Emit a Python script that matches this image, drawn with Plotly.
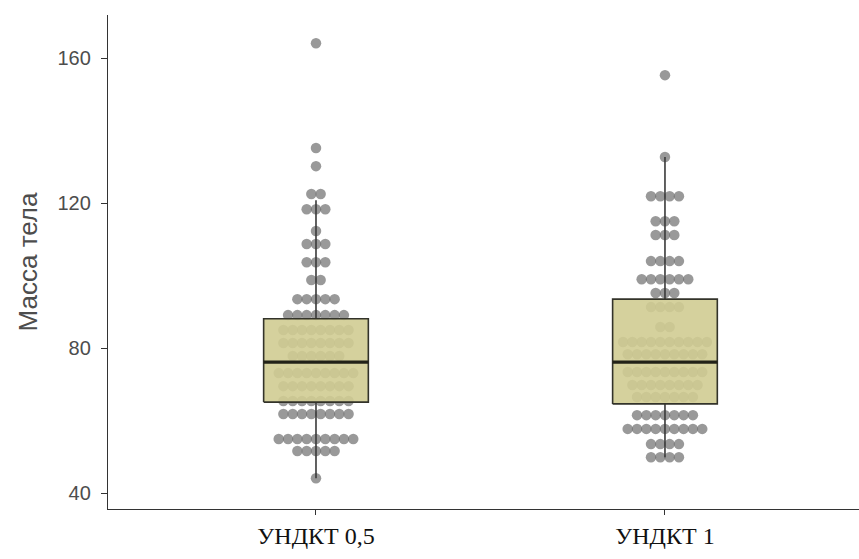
import plotly.graph_objects as go

# Groups
groups = ["УНДКТ 0,5", "УНДКТ 1"]

# Dot-plot rows: body mass value of each stacked row and number of dots in it
g1_row_values = [164.1, 135.2, 130.2, 122.5, 118.3, 112.3, 108.7, 103.7, 98.8, 93.5,
                 89.1, 85.0, 81.4, 77.8, 73.1, 69.5, 65.4, 61.8, 54.9, 51.6, 44.1]
g1_row_counts = [1, 1, 1, 2, 3, 1, 3, 3, 2, 5,
                 7, 8, 8, 6, 9, 8, 8, 8, 9, 5, 1]

g2_row_values = [155.3, 132.7, 121.9, 115.0, 111.2, 104.0, 99.0, 95.2, 91.3, 85.8,
                 81.7, 78.3, 73.4, 69.8, 66.5, 61.5, 57.7, 53.5, 49.9]
g2_row_counts = [1, 1, 4, 3, 3, 4, 6, 3, 4, 2,
                 10, 9, 9, 8, 7, 7, 9, 4, 4]

# Box statistics per group
q1 = [65.1, 64.6]
median = [76.1, 76.1]
q3 = [88.1, 93.5]
lower_whisker = [44.1, 49.9]
upper_whisker = [120.8, 132.7]

y_ticks = [40, 80, 120, 160]
y_title = "Масса тела"

# Layout constants
BOX_WIDTH = 0.30
DOT_STEP = 0.0267
DOT_SIZE = 10.5
EDGE = "#33332a"

rows = [(g1_row_values, g1_row_counts), (g2_row_values, g2_row_counts)]

fig = go.Figure()

# Dots, stacked horizontally around each group centre
for gi, (vals, counts) in enumerate(rows):
    xs, ys = [], []
    for v, n in zip(vals, counts):
        for k in range(n):
            xs.append(gi + (k - (n - 1) / 2) * DOT_STEP)
            ys.append(v)
    fig.add_trace(go.Scatter(
        x=xs, y=ys, mode="markers",
        marker=dict(size=DOT_SIZE, color="rgba(110,110,110,0.7)", line=dict(width=0)),
        hoverinfo="skip",
    ))

# Box-and-whisker drawn on top of the dots
for gi in range(len(groups)):
    left, right = gi - BOX_WIDTH / 2, gi + BOX_WIDTH / 2
    # whiskers
    fig.add_trace(go.Scatter(
        x=[gi, gi, None, gi, gi],
        y=[lower_whisker[gi], q1[gi], None, q3[gi], upper_whisker[gi]],
        mode="lines", line=dict(color="#3a3a3a", width=1.6),
        hoverinfo="skip",
    ))
    # semi-opaque box body
    fig.add_trace(go.Scatter(
        x=[left, right, right, left, left],
        y=[q1[gi], q1[gi], q3[gi], q3[gi], q1[gi]],
        mode="lines", fill="toself",
        fillcolor="rgba(208,204,146,0.9)",
        line=dict(color=EDGE, width=1.6),
        hoverinfo="skip",
    ))
    # median bar
    fig.add_trace(go.Scatter(
        x=[left, right], y=[median[gi], median[gi]],
        mode="lines", line=dict(color="#222218", width=3.2),
        hoverinfo="skip",
    ))

fig.update_layout(
    width=859, height=559,
    margin=dict(l=108, r=0, t=15, b=50),
    plot_bgcolor="white", paper_bgcolor="white",
    showlegend=False,
)

fig.update_xaxes(
    range=[-0.596, 1.556],
    tickmode="array", tickvals=[0, 1], ticktext=groups,
    showline=True, linecolor="#333333", linewidth=1.3,
    ticks="outside", ticklen=5, tickcolor="#333333", tickwidth=1.2,
    showgrid=False, zeroline=False,
    tickfont=dict(family="Liberation Serif", size=24, color="#111111"),
)

fig.update_yaxes(
    range=[35.6, 171.9],
    tickmode="array", tickvals=y_ticks,
    showline=True, linecolor="#333333", linewidth=1.3,
    ticks="outside", ticklen=6, tickcolor="#333333", tickwidth=1.2,
    ticklabelstandoff=6,
    showgrid=False, zeroline=False,
    tickfont=dict(family="Liberation Sans", size=20, color="#4d4d4d"),
    title=dict(text=y_title, font=dict(family="Liberation Sans", size=26, color="#4d4d4d"),
               standoff=12),
)

fig.write_html("out.html")
